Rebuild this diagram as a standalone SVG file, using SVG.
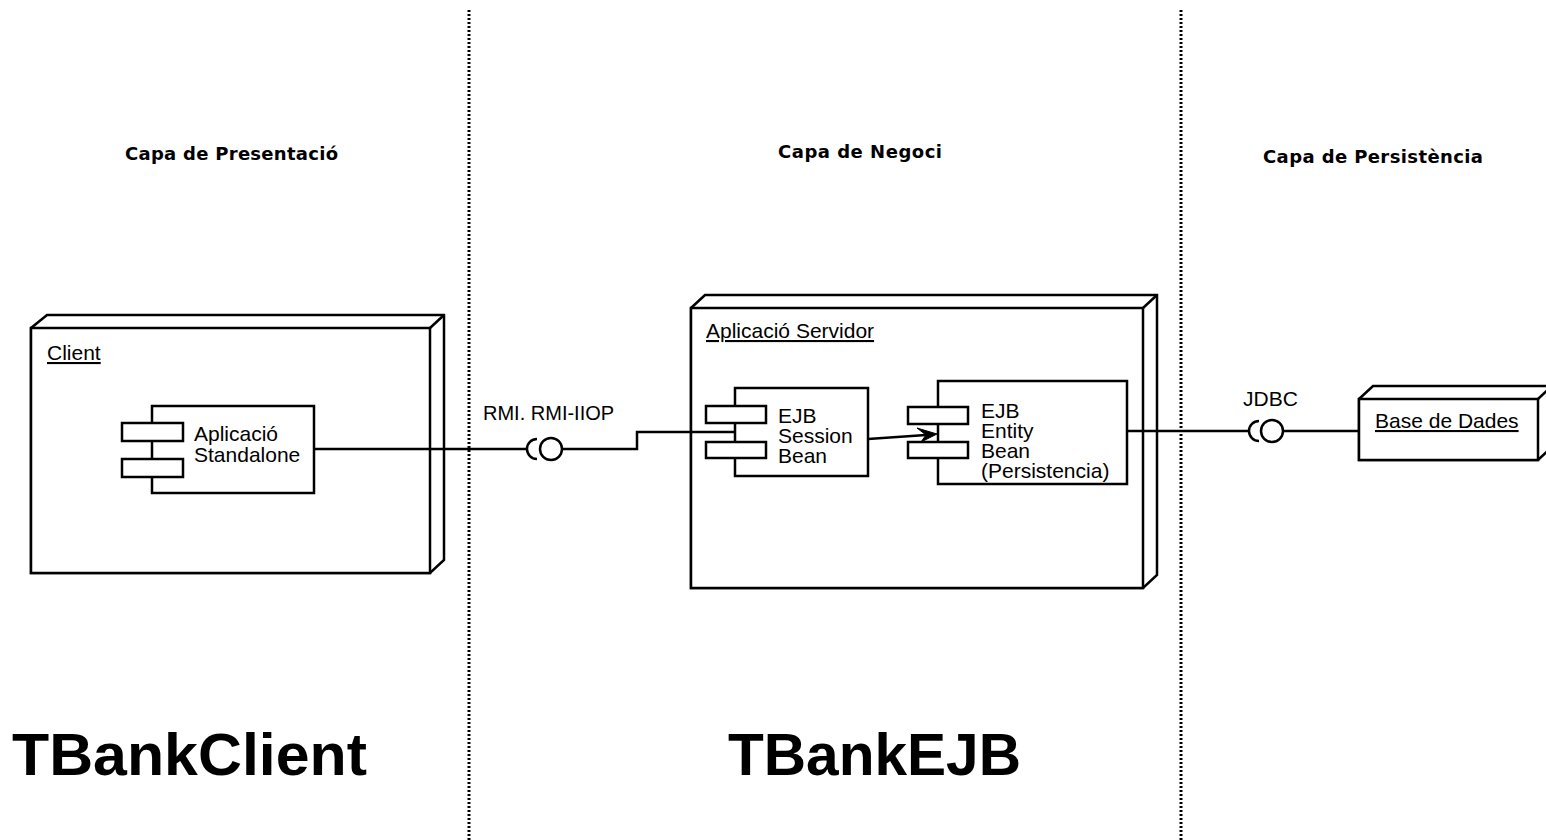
<svg xmlns="http://www.w3.org/2000/svg" width="1546" height="840" viewBox="0 0 1546 840">
<style>
  .bg { fill: #ffffff; }
  .sh { fill: #ffffff; stroke: #000000; stroke-width: 2.5; stroke-linejoin: miter; }
  .ln { fill: none; stroke: #000000; stroke-width: 2.5; }
  .dot { fill: none; stroke: #000000; stroke-width: 3; stroke-dasharray: 2 2; }
  .t { font-family: "Liberation Sans", Arial, sans-serif; font-size: 21px; fill: #000000; }
  .lbl { font-family: "Liberation Sans", Arial, sans-serif; font-size: 20px; fill: #000000; }
  .hd { font-family: "DejaVu Sans", Verdana, sans-serif; font-size: 18px; font-weight: bold; fill: #000000; }
  .big { font-family: "Liberation Sans", Arial, sans-serif; font-size: 60px; font-weight: bold; fill: #000000; }
  .u { text-decoration: underline; }
</style>
<rect class="bg" x="0" y="0" width="1546" height="840"/>

<g id="layers">
  <line class="dot" x1="469" y1="10" x2="469" y2="840"/>
  <line class="dot" x1="1181" y1="10" x2="1181" y2="840"/>
  <text class="hd" x="125" y="160" textLength="213" lengthAdjust="spacing">Capa de Presentació</text>
  <text class="hd" x="778" y="158" textLength="164" lengthAdjust="spacing">Capa de Negoci</text>
  <text class="hd" x="1263" y="163" textLength="220" lengthAdjust="spacing">Capa de Persistència</text>
  <text class="big" x="12" y="775" textLength="355" lengthAdjust="spacingAndGlyphs">TBankClient</text>
  <text class="big" x="728" y="775" textLength="293" lengthAdjust="spacingAndGlyphs">TBankEJB</text>
</g>

<g id="node-client">
  <polygon class="sh" points="31,328 47,315 444,315 444,560 430,573 31,573"/>
  <rect class="sh" x="31" y="328" width="399" height="245"/>
  <line class="ln" x1="430" y1="328" x2="444" y2="315"/>
  <text class="t u" x="47" y="360">Client</text>
</g>

<g id="node-servidor">
  <polygon class="sh" points="691,308 705,295 1157,295 1157,575 1143,588 691,588"/>
  <rect class="sh" x="691" y="308" width="452" height="280"/>
  <line class="ln" x1="1143" y1="308" x2="1157" y2="295"/>
  <text class="t u" x="706" y="338">Aplicació Servidor</text>
</g>

<g id="node-bd">
  <polygon class="sh" points="1359,399 1373,386 1552,386 1552,447 1538,460 1359,460"/>
  <rect class="sh" x="1359" y="399" width="179" height="61"/>
  <line class="ln" x1="1538" y1="399" x2="1552" y2="386"/>
  <text class="t u" x="1375" y="428">Base de Dades</text>
</g>

<g id="comp-standalone">
  <rect class="sh" x="152" y="406" width="162" height="87"/>
  <rect class="sh" x="122" y="423" width="61" height="18"/>
  <rect class="sh" x="122" y="459" width="61" height="18"/>
  <text class="t" x="194" y="441">Aplicació</text>
  <text class="t" x="194" y="462">Standalone</text>
</g>

<g id="comp-session">
  <rect class="sh" x="735" y="388" width="133" height="88"/>
  <rect class="sh" x="706" y="406" width="60" height="17"/>
  <rect class="sh" x="706" y="442" width="60" height="16"/>
  <text class="t" x="778" y="423">EJB</text>
  <text class="t" x="778" y="443">Session</text>
  <text class="t" x="778" y="463">Bean</text>
</g>

<g id="comp-entity">
  <rect class="sh" x="938" y="381" width="189" height="103"/>
  <rect class="sh" x="908" y="407" width="60" height="17"/>
  <rect class="sh" x="908" y="442" width="60" height="16"/>
  <text class="t" x="981" y="418">EJB</text>
  <text class="t" x="981" y="438">Entity</text>
  <text class="t" x="981" y="458">Bean</text>
  <text class="t" x="981" y="478">(Persistencia)</text>
</g>

<g id="connectors">
  <polyline class="ln" points="314,449 528,449"/>
  <path class="ln" d="M537,439 A10,10 0 0 0 537,459"/>
  <circle class="ln" cx="551" cy="449" r="11"/>
  <polyline class="ln" points="562,449 637,449 637,432 735,432"/>
  <text class="lbl" x="483" y="420">RMI. RMI-IIOP</text>

  <line class="ln" x1="868" y1="439" x2="926" y2="435"/>
  <polygon points="917,428 937,434 921,442 926,435" fill="#000000" stroke="#000000" stroke-width="1"/>

  <polyline class="ln" points="1127,431 1250,431"/>
  <path class="ln" d="M1259,421 A10,10 0 0 0 1259,441"/>
  <circle class="ln" cx="1272" cy="431" r="11"/>
  <polyline class="ln" points="1283,431 1359,431"/>
  <text class="t" x="1243" y="406">JDBC</text>
</g>
</svg>
